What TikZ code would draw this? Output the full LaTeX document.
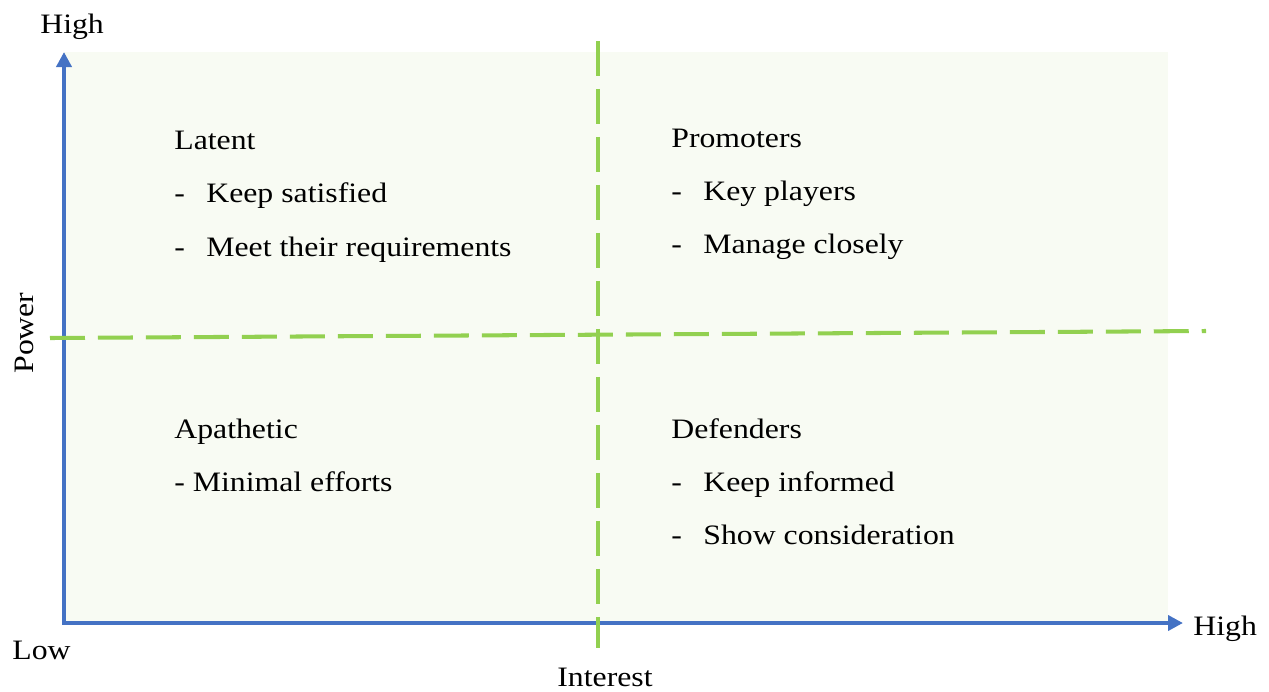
\documentclass[tikz,border=0pt]{standalone}
\usepackage{fontspec}
\setmainfont{Liberation Serif}[FakeStretch=1.13]
\usetikzlibrary{arrows.meta}
\definecolor{axisblue}{RGB}{68,114,196}
\definecolor{splitgreen}{RGB}{146,208,80}
\definecolor{paneltint}{RGB}{248,251,243}
\newcommand{\itemdash}{\makebox[0.64cm][l]{-}}

\begin{document}
\begin{tikzpicture}[x=0.02cm,y=-0.02cm,
    every node/.style={font=\fontsize{16}{19}\selectfont,inner sep=0pt},
    axis/.style={axisblue,line width=2.3pt,
      {Triangle[length=0.3cm,width=0.3cm]}-{Triangle[length=0.3cm,width=0.3cm]}},
    divider/.style={splitgreen,line width=2.3pt,dash pattern=on 0.7cm off 0.26cm}]
  \useasboundingbox (0,0) rectangle (1269,691);

  % grid panel
  \fill[paneltint] (64,52) rectangle (1168,623);

  % axes
  \coordinate (origin) at (64,623);
  \coordinate (powertip) at (64,52);
  \coordinate (interesttip) at (1183,623);
  \draw[axis] (powertip) -- (origin) -- (interesttip);

  % quadrant dividers
  \coordinate (vtop) at (598,41);
  \coordinate (vbottom) at (598,648);
  \coordinate (hleft) at (50,338);
  \coordinate (hright) at (1206,331);
  \draw[divider] (vtop) -- (vbottom);
  \draw[divider] (hleft) -- (hright);

  % axis labels
  \node[anchor=base west] (hightop) at (40,33) {High};
  \node[anchor=base west] (highright) at (1193,635) {High};
  \node[anchor=base west] (low) at (12,659) {Low};
  \node[anchor=base] (interest) at (605,686) {Interest};
  \node[anchor=base,rotate=90] (power) at (33,333) {Power};

  % Latent
  \node[anchor=base west] (latent) at (174,149) {Latent};
  \node[anchor=base west] (latent1) at (174,202) {\itemdash Keep satisfied};
  \node[anchor=base west] (latent2) at (174,256) {\itemdash Meet their requirements};

  % Promoters
  \node[anchor=base west] (promoters) at (671,147) {Promoters};
  \node[anchor=base west] (promoters1) at (671,200) {\itemdash Key players};
  \node[anchor=base west] (promoters2) at (671,253) {\itemdash Manage closely};

  % Apathetic
  \node[anchor=base west] (apathetic) at (174,438) {Apathetic};
  \node[anchor=base west] (apathetic1) at (174,491) {- Minimal efforts};

  % Defenders
  \node[anchor=base west] (defenders) at (671,438) {Defenders};
  \node[anchor=base west] (defenders1) at (671,491) {\itemdash Keep informed};
  \node[anchor=base west] (defenders2) at (671,544) {\itemdash Show consideration};
\end{tikzpicture}
\end{document}
